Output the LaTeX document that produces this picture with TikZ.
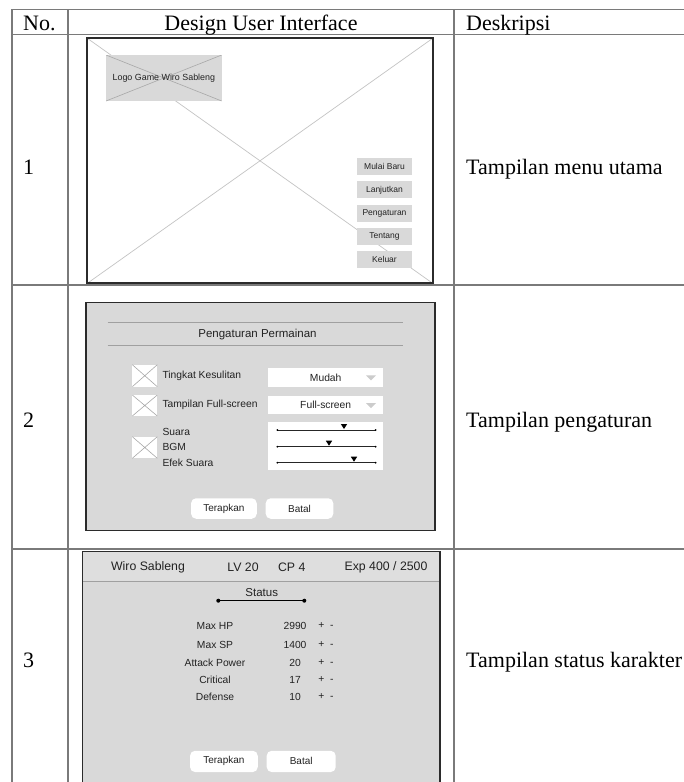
\documentclass[tikz,border=0pt]{standalone}
\usepackage{fontspec}
\setmainfont{Liberation Serif}
\newfontfamily\uifont{Liberation Sans}
\newcommand\uisize[1]{\uifont\fontsize{#1}{#1}\selectfont}
\definecolor{uigray}{HTML}{D9D9D9}
\definecolor{hdrgray}{HTML}{DEDEDE}
\definecolor{framec}{HTML}{2B2B2B}
\definecolor{tablec}{HTML}{7A7A7A}
\definecolor{xlinec}{HTML}{A8A8A8}
\definecolor{bigxc}{HTML}{C4C4C4}
\definecolor{sepc}{HTML}{A0A0A0}
\definecolor{uitext}{HTML}{222222}
\definecolor{arrowc}{HTML}{CCCCCC}
\begin{document}
\begin{tikzpicture}[x=1pt,y=-1pt,
  tline/.style={draw=tablec,line width=1.2pt},
  tabtext/.style={font=\fontsize{22}{26}\selectfont,inner sep=0pt,text=black},
  boxnw/.style={anchor=north west,inner sep=0pt,outer sep=0pt},
  framebd/.style={draw=framec,line width=1.7pt},
  xbox/.style={boxnw,path picture={\draw[xlinec,line width=0.6pt]
     (path picture bounding box.north west) -- (path picture bounding box.south east)
     (path picture bounding box.north east) -- (path picture bounding box.south west);}},
  menubtn/.style={fill=uigray,minimum width=55pt,minimum height=17pt,inner sep=0pt,font=\uisize{8.5},text=uitext},
  uilabel/.style={inner sep=0pt,font=\uisize{10.3},text=uitext},
  rbtn/.style={fill=white,rounded corners=5pt,minimum height=20.5pt,inner sep=0pt,font=\uisize{10},text=uitext},
  sline/.style={draw=black!85,line width=0.7pt},
  thumb/.style={fill=black},
]
\useasboundingbox (0,0) rectangle (684,782);
\begin{scope}
\clip (0,0) rectangle (684,782);

% ---------------- Row 1 : main menu ----------------
\node[boxnw,fill=white,minimum width=345.4pt,minimum height=245pt] (f1) at (87.3,38.3) {};
\draw[bigxc,line width=0.7pt] (f1.north west) -- (f1.south east) (f1.north east) -- (f1.south west);
\node[xbox,fill=uigray,minimum width=115.7pt,minimum height=46pt] (logo) at (106,55) {};
\node[uilabel,font=\uisize{8.9}] (logot) at (logo.center) {Logo Game Wiro Sableng};
\node[menubtn] (b1) at (384.5,166.5) {Mulai Baru};
\node[menubtn] (b2) at (384.5,189.9) {Lanjutkan};
\node[menubtn] (b3) at (384.5,213.0) {Pengaturan};
\node[menubtn] (b4) at (384.5,236.2) {Tentang};
\node[menubtn] (b5) at (384.5,259.2) {Keluar};
\draw[framebd] (f1.north west) rectangle (f1.south east);

% ---------------- Row 2 : settings ----------------
\node[boxnw,fill=uigray,minimum width=349pt,minimum height=228pt] (f2) at (86,302.7) {};
\draw[framebd,line width=1.5pt] (f2.north west) rectangle (f2.south east);
\draw[sepc,line width=0.8pt] (107.7,322.7) -- (403,322.7);
\draw[sepc,line width=0.8pt] (107.7,345.7) -- (403,345.7);
\node[uilabel,font=\uisize{11.5}] (ptitle) at (257.5,334.5) {Pengaturan Permainan};

\node[xbox,fill=white,minimum width=25pt,minimum height=22pt] (cb1) at (132.3,364.7) {};
\node[xbox,fill=white,minimum width=25pt,minimum height=21pt] (cb2) at (132.3,395) {};
\node[xbox,fill=white,minimum width=25pt,minimum height=21.6pt] (cb3) at (132.3,436.7) {};
\node[uilabel,anchor=west] (l1) at (162.3,376) {Tingkat Kesulitan};
\node[uilabel,anchor=west] (l2) at (162.3,405) {Tampilan Full-screen};
\node[uilabel,anchor=west] (l3) at (162.3,431.7) {Suara};
\node[uilabel,anchor=west] (l4) at (162.3,447.3) {BGM};
\node[uilabel,anchor=west] (l5) at (162.3,463.3) {Efek Suara};

\node[boxnw,fill=white,minimum width=115pt,minimum height=18.4pt] (dd1) at (268.3,368.3) {};
\node[boxnw,fill=white,minimum width=115pt,minimum height=18.3pt] (dd2) at (268.3,396) {};
\node[uilabel] (dd1t) at (325.7,377.5) {Mudah};
\node[uilabel] (dd2t) at (325.7,405.2) {Full-screen};
\fill[arrowc] (366,375.3) -- (376,375.3) -- (371,380.3) -- cycle;
\fill[arrowc] (366,403) -- (376,403) -- (371,408) -- cycle;

\node[boxnw,fill=white,minimum width=115pt,minimum height=48.3pt] (sb) at (268.3,421.7) {};
\foreach \yy/\xx/\nm in {430/344/s1, 446.7/329/s2, 462.7/354/s3}{
  \coordinate (\nm a) at (277.3,\yy);
  \coordinate (\nm b) at (375.7,\yy);
  \draw[sline] (\nm a) -- (\nm b);
  \fill[black] (\nm a) circle (1pt) (\nm b) circle (1pt);
  \fill[thumb] (\xx-3.2,\yy-6) -- (\xx+3.2,\yy-6) -- (\xx,\yy-1) -- cycle;
}
\node[rbtn,minimum width=65.7pt] (t2) at (223.9,508.5) {Terapkan};
\node[rbtn,minimum width=67.6pt] (c2) at (299.5,508.5) {Batal};

% ---------------- Row 3 : character status ----------------
\node[boxnw,fill=uigray,minimum width=357.3pt,minimum height=250pt] (f3) at (82.7,551.7) {};
\fill[hdrgray] (82.7,551.7) rectangle (440,581.7);
\draw[sepc,line width=0.8pt] (82.7,581.7) -- (440,581.7);
\draw[framebd,line width=1.5pt] (f3.north west) rectangle (f3.south east);
\node[uilabel,font=\uisize{12.3}] (h1) at (148,567) {Wiro Sableng};
\node[uilabel,font=\uisize{12.3}] (h2) at (243,567) {LV 20};
\node[uilabel,font=\uisize{12.3}] (h3) at (291.7,567) {CP 4};
\node[uilabel,font=\uisize{12.3}] (h4) at (386,567) {Exp 400 / 2500};
\node[uilabel,font=\uisize{11.5}] (st) at (261.7,592.8) {Status};
\coordinate (sta) at (218.3,600.7);
\coordinate (stb) at (304.3,600.7);
\draw[black,line width=1pt] (sta) -- (stb);
\fill[black] (sta) circle (2pt) (stb) circle (2pt);
\foreach \yy/\lab/\val/\nm in {626/Max HP/2990/r1, 645/Max SP/1400/r2, 662.5/Attack Power/20/r3, 679.5/Critical/17/r4, 696.5/Defense/10/r5}{
  \node[uilabel] (\nm l) at (215,\yy) {\lab};
  \node[uilabel] (\nm v) at (295,\yy) {\val};
  \node[uilabel] (\nm p) at (326,\yy) {+\ \ -};
}
\node[rbtn,minimum width=67.7pt,minimum height=21.3pt] (t3) at (223.9,761.4) {Terapkan};
\node[rbtn,minimum width=69pt,minimum height=21.3pt] (c3) at (301.2,761.4) {Batal};

% ---------------- Table ----------------
\coordinate (tl) at (12,9.3);
\coordinate (tr) at (684,9.3);
\draw[tline] (12,9.3) -- (684,9.3);
\draw[tline] (12,34.5) -- (684,34.5);
\draw[tline] (12,285) -- (684,285);
\draw[tline] (12,549) -- (684,549);
\draw[tline] (12,9.3) -- (12,790);
\draw[tline] (68,9.3) -- (68,790);
\draw[tline] (454,9.3) -- (454,790);

\node[tabtext,anchor=base west] (hno) at (23,30.5) {No.};
\node[tabtext,anchor=base] (hdui) at (261,30.5) {Design User Interface};
\node[tabtext,anchor=base west] (hdesc) at (466,30.5) {Deskripsi};
\node[tabtext,anchor=base west] (n1) at (23,174) {1};
\node[tabtext,anchor=base west] (d1) at (466,174) {Tampilan menu utama};
\node[tabtext,anchor=base west] (n2) at (23,427) {2};
\node[tabtext,anchor=base west] (d2) at (466,427) {Tampilan pengaturan};
\node[tabtext,anchor=base west] (n3) at (23,667) {3};
\node[tabtext,anchor=base west] (d3) at (466,667) {Tampilan status karakter};
\end{scope}
\end{tikzpicture}
\end{document}
